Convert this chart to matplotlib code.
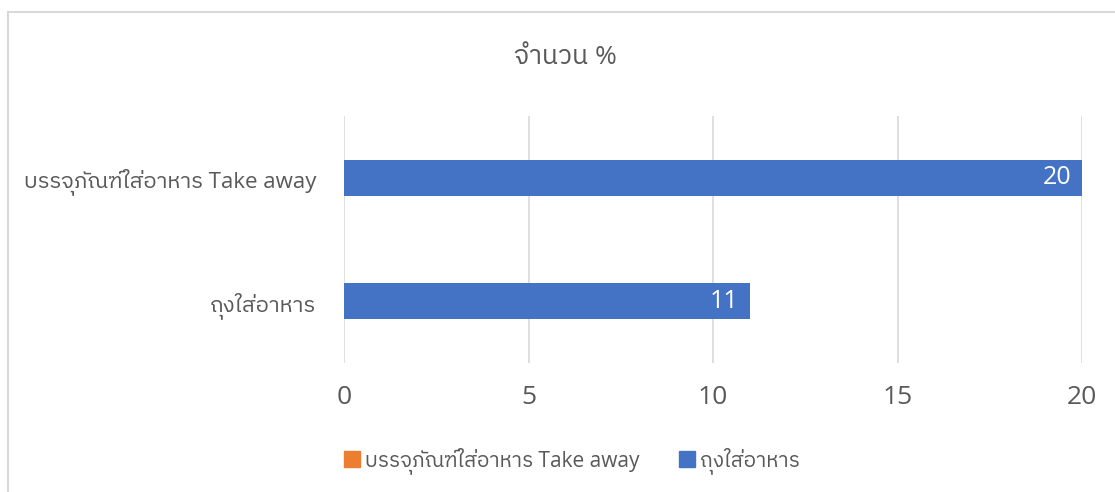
import matplotlib
matplotlib.use("Agg")
import matplotlib.pyplot as plt
from matplotlib import font_manager
from matplotlib.ft2font import FT2Font
from matplotlib.patches import Rectangle
from matplotlib.lines import Line2D

categories = ["ถุงใส่อาหาร", "บรรจุภัณฑ์ใส่อาหาร Take away"]
values = [11, 20]
legend_labels = ["บรรจุภัณฑ์ใส่อาหาร Take away", "ถุงใส่อาหาร"]
legend_colors = ["#ED7D31", "#4472C4"]
xticks = [0, 5, 10, 15, 20]
title = "จำนวน %"

# find a font with Thai glyphs
thai_family = None
for fe in font_manager.fontManager.ttflist:
    try:
        f = FT2Font(fe.fname)
        if ord("ก") in f.get_charmap():
            thai_family = fe.name
            if "Noto" in fe.name or "Sans" in fe.name:
                break
    except Exception:
        pass
fams = ["Open Sans", "DejaVu Sans"]
if thai_family:
    fams = ["Open Sans", thai_family, "DejaVu Sans"]
plt.rcParams["font.family"] = fams

W, H = 1115, 492
fig = plt.figure(figsize=(W / 100, H / 100), dpi=100)
fig.patch.set_facecolor("white")

# outer chart frame
fig.patches.append(Rectangle((8 / W, -0.05), 1.2, (H - 12) / H + 0.05,
                             transform=fig.transFigure, fill=False,
                             edgecolor="#d9d9d9", linewidth=1.5))

left, right = 344 / W, 1082 / W
bottom, top = 1 - 363 / H, 1 - 116 / H
ax = fig.add_axes([left, bottom, right - left, top - bottom])
ypos = list(range(len(categories)))
bars = ax.barh(ypos, values, height=0.29, color="#4472C4", zorder=3)
ax.set_xlim(0, 20)
ax.set_ylim(-0.5, len(categories) - 0.5)
ax.set_xticks(xticks)
ax.set_xticklabels([str(t) for t in xticks], fontsize=19, color="#595959")
ax.set_yticks(ypos)
ax.set_yticklabels(categories, fontsize=16, color="#595959")
ax.tick_params(axis="both", length=0)
ax.tick_params(axis="x", pad=16)
ax.tick_params(axis="y", pad=20)
ax.grid(axis="x", color="#d9d9d9", linewidth=1.2, zorder=0)
for s in ax.spines.values():
    s.set_visible(False)

for b, v in zip(bars, values):
    ax.text(b.get_width() - 0.3, b.get_y() + b.get_height() / 2, str(v),
            ha="right", va="center", color="white", fontsize=18, zorder=4)

fig.text(565 / W, 1 - 57 / H, title, ha="center", va="center",
         fontsize=19, color="#595959")

handles = [Line2D([], [], marker="s", linestyle="none", markersize=11,
                  markerfacecolor=c, markeredgecolor=c) for c in legend_colors]
fig.legend(handles, legend_labels, loc="center", bbox_to_anchor=(571 / W, 1 - 461 / H),
           ncol=2, frameon=False, fontsize=15, labelcolor="#595959",
           handletextpad=0.2, columnspacing=1.8, handlelength=0.9)

fig.savefig("out.png", dpi=100)
